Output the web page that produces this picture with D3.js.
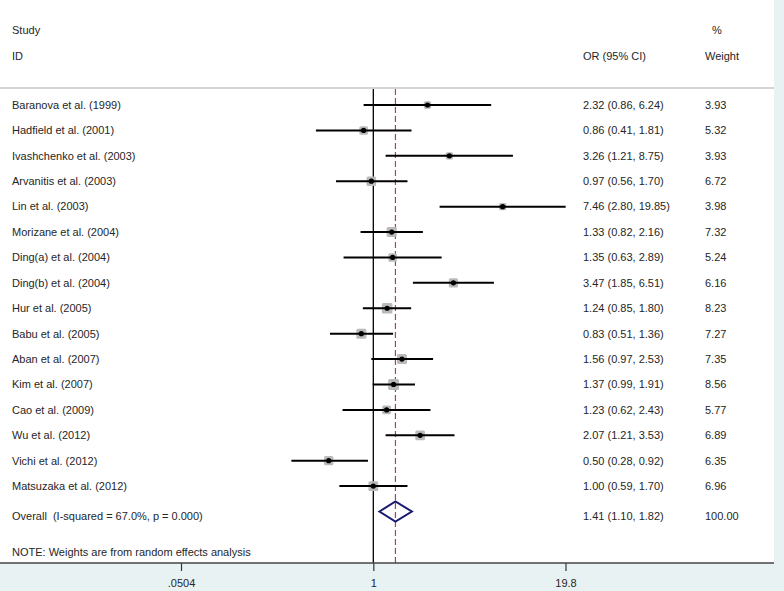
<!DOCTYPE html>
<html>
<head>
<meta charset="utf-8">
<script src="https://cdn.jsdelivr.net/npm/d3@7"></script>
<style>
  html, body { margin: 0; padding: 0; background: #e9f2f3; }
  svg { display: block; }
  text { font-family: "Liberation Sans", Arial, sans-serif; fill: #262626; white-space: pre; }
</style>
</head>
<body>
<svg id="chart" width="784" height="591"></svg>
<script>
const studies = ["Baranova et al. (1999)", "Hadfield et al. (2001)", "Ivashchenko et al. (2003)", "Arvanitis et al. (2003)", "Lin et al. (2003)", "Morizane et al. (2004)", "Ding(a) et al. (2004)", "Ding(b) et al. (2004)", "Hur et al. (2005)", "Babu et al. (2005)", "Aban et al. (2007)", "Kim et al. (2007)", "Cao et al. (2009)", "Wu et al. (2012)", "Vichi et al. (2012)", "Matsuzaka et al. (2012)"];
const orValues = [2.32, 0.86, 3.26, 0.97, 7.46, 1.33, 1.35, 3.47, 1.24, 0.83, 1.56, 1.37, 1.23, 2.07, 0.50, 1.00];
const lowerCI = [0.86, 0.41, 1.21, 0.56, 2.80, 0.82, 0.63, 1.85, 0.85, 0.51, 0.97, 0.99, 0.62, 1.21, 0.28, 0.59];
const upperCI = [6.24, 1.81, 8.75, 1.70, 19.85, 2.16, 2.89, 6.51, 1.80, 1.36, 2.53, 1.91, 2.43, 3.53, 0.92, 1.70];
const weights = ["3.93", "5.32", "3.93", "6.72", "3.98", "7.32", "5.24", "6.16", "8.23", "7.27", "7.35", "8.56", "5.77", "6.89", "6.35", "6.96"];
const overall = { label: "Overall  (I-squared = 67.0%, p = 0.000)", or: 1.41, lo: 1.10, hi: 1.82, weight: "100.00" };
const tickValues = [0.0504, 1, 19.8];
const tickLabels = [".0504", "1", "19.8"];
const note = "NOTE: Weights are from random effects analysis";

const fmt = d3.format(".2f");
const svg = d3.select("#chart");

const panelW = 774, panelH = 563;
svg.append("rect").attr("x", 0).attr("y", 0).attr("width", panelW).attr("height", panelH).attr("fill", "#ffffff");

const x = d3.scaleLog().domain([0.0504, 19.8]).range([181, 565.5]);
const y = d3.scaleLinear().domain([0, 16]).range([105, 511.5]);

const fs = "11px";
// header
svg.append("text").attr("x", 12).attr("y", 30).attr("dy", "0.35em").style("font-size", fs).text("Study");
svg.append("text").attr("x", 12).attr("y", 56).attr("dy", "0.35em").style("font-size", fs).text("ID");
svg.append("text").attr("x", 583).attr("y", 56).attr("dy", "0.35em").style("font-size", fs).text("OR (95% CI)");
svg.append("text").attr("x", 712).attr("y", 30).attr("dy", "0.35em").style("font-size", fs).text("%");
svg.append("text").attr("x", 705).attr("y", 56).attr("dy", "0.35em").style("font-size", fs).text("Weight");

svg.append("line").attr("x1", 0).attr("x2", panelW).attr("y1", 88).attr("y2", 88)
  .attr("stroke", "#d4d4d4").attr("stroke-width", 2);

// reference lines
svg.append("line").attr("x1", x(1)).attr("x2", x(1)).attr("y1", 89).attr("y2", panelH)
  .attr("stroke", "#000").attr("stroke-width", 1.3);
svg.append("line").attr("x1", x(overall.or)).attr("x2", x(overall.or)).attr("y1", 89).attr("y2", panelH)
  .attr("stroke", "#b2404e").attr("stroke-width", 1.2).attr("stroke-dasharray", "6,3");

// study rows
const rows = svg.append("g");
studies.forEach((s, i) => {
  const cy = y(i);
  const side = 3.7 * Math.sqrt(+weights[i]);
  rows.append("rect").attr("x", x(orValues[i]) - side / 2).attr("y", cy - side / 2)
    .attr("width", side).attr("height", side).attr("rx", 1.5).attr("fill", "#bababa");
  rows.append("line").attr("x1", x(lowerCI[i])).attr("x2", x(upperCI[i])).attr("y1", cy).attr("y2", cy)
    .attr("stroke", "#000").attr("stroke-width", 2);
  rows.append("circle").attr("cx", x(orValues[i])).attr("cy", cy).attr("r", 2.6).attr("fill", "#000");
  rows.append("text").attr("x", 12).attr("y", cy).attr("dy", "0.35em").style("font-size", fs).text(s);
  rows.append("text").attr("x", 583).attr("y", cy).attr("dy", "0.35em").style("font-size", fs)
    .text(`${fmt(orValues[i])} (${fmt(lowerCI[i])}, ${fmt(upperCI[i])})`);
  rows.append("text").attr("x", 705).attr("y", cy).attr("dy", "0.35em").style("font-size", fs).text(weights[i]);
});

// overall
const oy = y(16);
const dh = 10;
svg.append("path")
  .attr("d", `M${x(overall.lo)},${oy} L${x(overall.or)},${oy - dh} L${x(overall.hi)},${oy} L${x(overall.or)},${oy + dh} Z`)
  .attr("fill", "none").attr("stroke", "#1a1a6e").attr("stroke-width", 2);
svg.append("text").attr("x", 12).attr("y", oy + 5).attr("dy", "0.35em").style("font-size", fs).text(overall.label);
svg.append("text").attr("x", 583).attr("y", oy + 5).attr("dy", "0.35em").style("font-size", fs)
  .text(`${fmt(overall.or)} (${fmt(overall.lo)}, ${fmt(overall.hi)})`);
svg.append("text").attr("x", 705).attr("y", oy + 5).attr("dy", "0.35em").style("font-size", fs).text(overall.weight);

svg.append("text").attr("x", 12).attr("y", 552).attr("dy", "0.35em").style("font-size", fs).text(note);

// axis
const axis = d3.axisBottom(x).tickValues(tickValues).tickFormat((d, i) => tickLabels[i]).tickSize(8).tickPadding(8);
const ag = svg.append("g").attr("transform", `translate(0,${panelH})`).call(axis);
ag.select(".domain").remove();
ag.selectAll(".tick line").attr("stroke", "#333").attr("stroke-width", 1.2);
ag.selectAll(".tick text").style("font-size", fs).style("font-family", "'Liberation Sans', Arial, sans-serif").attr("fill", "#262626");
svg.append("line").attr("x1", 0).attr("x2", panelW).attr("y1", panelH).attr("y2", panelH)
  .attr("stroke", "#444").attr("stroke-width", 1.5);
</script>
</body>
</html>
